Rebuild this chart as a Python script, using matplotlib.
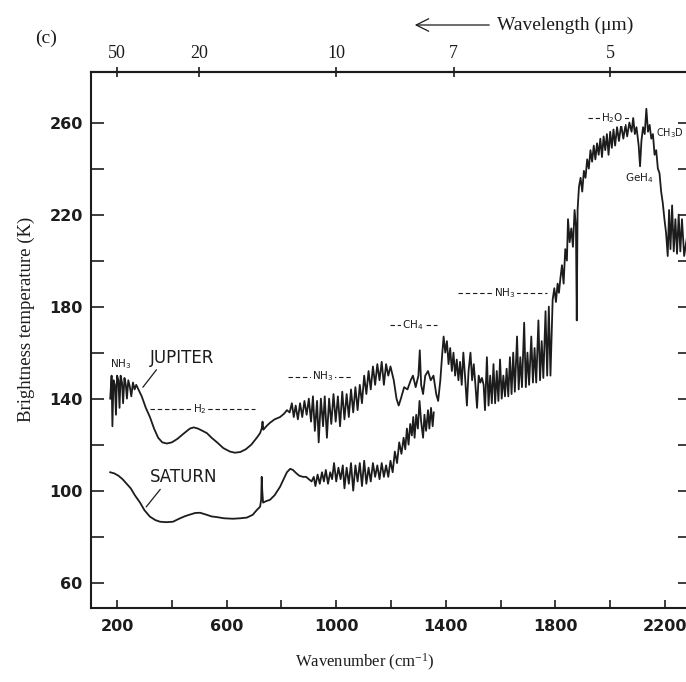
import numpy as np
import matplotlib.pyplot as plt

# Jupiter spectrum (wavenumber cm-1, brightness temperature K)
jup_wn = [175, 180, 183, 187, 192, 196, 200, 205, 209, 213, 218, 222, 227, 232, 236, 241, 247, 252, 258, 264,
          270, 278, 290, 305, 320, 335, 350, 365, 382, 400, 420, 445, 466, 480, 495, 512, 528, 545, 565, 588,
          612, 630, 650, 670, 690, 710, 722, 728, 731, 734, 745, 758, 775, 795, 810, 820,
          830, 838, 845, 852, 860, 868, 876, 884, 892, 900, 908, 915, 922, 930, 936, 944, 952, 958, 966, 974,
          982, 990, 998, 1006, 1014, 1022, 1030, 1038, 1046, 1054, 1062, 1070, 1078, 1086, 1094, 1102, 1110,
          1118, 1126, 1134, 1142, 1150, 1158, 1166, 1174, 1182, 1190, 1198,
          1210, 1220, 1228, 1236, 1248, 1260, 1272, 1280, 1290, 1300, 1305, 1310, 1317, 1325, 1335, 1345, 1355,
          1365, 1372, 1380, 1386, 1392, 1398, 1404, 1410, 1416, 1422, 1428, 1434, 1440, 1446, 1452, 1458, 1464,
          1470, 1477, 1483, 1490, 1496, 1502, 1508, 1514, 1520, 1526, 1532, 1538, 1543,
          1550, 1556, 1562, 1568, 1574, 1580, 1586, 1592, 1598, 1604, 1610, 1616, 1622, 1628, 1634, 1640, 1646,
          1652, 1660, 1666, 1672, 1678, 1686, 1692, 1698, 1704, 1712, 1718, 1724, 1730, 1738, 1744, 1750, 1756,
          1764, 1770, 1776, 1782, 1790, 1796, 1802, 1808, 1813, 1818,
          1824, 1830, 1836, 1842, 1846, 1852, 1858, 1864, 1870, 1875, 1878, 1881, 1886, 1892, 1898, 1904, 1910,
          1916, 1922, 1928, 1934, 1940, 1946, 1952, 1958, 1964, 1970, 1976, 1982, 1988, 1994, 2000, 2006, 2012,
          2018, 2025, 2032, 2040, 2048, 2056, 2062, 2070, 2078, 2084, 2090, 2096, 2104, 2109, 2114, 2120, 2126,
          2132, 2138, 2144, 2150, 2156, 2162, 2168, 2174, 2180, 2186, 2192, 2198, 2204, 2210, 2215, 2220, 2226,
          2232, 2238, 2244, 2250, 2256, 2262, 2270, 2280]
jup_t = [140, 150, 128, 148, 146, 133, 150, 148, 136, 150, 147, 138, 149, 146, 140, 148, 145, 141, 147, 144,
         146, 144, 141, 136, 132, 127, 123, 121, 120.5, 121, 122.5, 125, 127, 127.5, 127, 126, 125, 123, 121, 118.5,
         117, 116.5, 116.8, 118, 120, 123, 125, 127, 130, 126.5, 128, 129.5, 131, 132, 133.5, 135,
         134, 138, 132, 137, 131, 138, 132, 139, 133, 140, 130, 141, 126, 139, 121, 140, 128, 141, 123, 140,
         129, 142, 130, 141, 128, 143, 131, 142, 132, 144, 134, 145, 135, 146, 138, 150, 142,
         152, 144, 154, 146, 155, 148, 156, 146, 155, 150, 154,
         148, 140, 137, 140, 145, 144, 148, 150, 145, 150, 161, 146, 142, 150, 152, 148, 150,
         142, 139, 148, 158, 167, 160, 165, 155, 162, 152, 160, 150, 157, 148, 156, 146, 160,
         150, 137, 152, 160, 148, 155, 146, 136, 150, 147, 149, 146, 135,
         158, 137, 150, 138, 155, 138, 152, 139, 157, 140, 150, 141, 153, 141, 158, 142, 160,
         143, 167, 144, 158, 145, 173, 145, 160, 146, 167, 147, 162, 147, 174, 148, 165, 149,
         178, 150, 180, 150, 183, 188, 182, 190, 186, 192,
         198, 190, 205, 200, 218, 208, 214, 206, 222, 215, 174, 222, 232, 236, 230, 239, 236,
         244, 240, 248, 243, 250, 244, 251, 246, 253, 245, 254, 248, 255, 246, 256, 249, 257,
         250, 258, 252, 259, 253, 259, 254, 260, 256, 262, 255, 258, 250, 241, 252, 258, 255,
         266, 256, 259, 253, 255, 246, 248, 240, 238, 230, 225, 218, 212, 202, 222, 205, 224,
         204, 218, 203, 220, 204, 218, 202, 210]

# Saturn spectrum
sat_wn = [175, 190, 205, 220, 235, 250, 265, 284, 300, 320, 340, 357, 380, 404, 430, 450, 466, 485, 503, 525,
          545, 565, 590, 623, 650, 674, 695, 711, 722, 726, 728, 730, 733, 745, 758, 775, 795, 808, 820, 832,
          842, 855, 865, 879, 890, 900, 910, 918, 924, 932, 940, 948, 955, 962, 970, 978, 985, 992, 1000, 1008,
          1016, 1024, 1030, 1038, 1046, 1054, 1062, 1070, 1078, 1086, 1094, 1102, 1110, 1118, 1126, 1134, 1142,
          1150, 1158, 1166, 1174, 1182, 1190, 1198, 1206, 1214, 1222, 1230, 1238, 1246, 1252, 1258, 1264, 1270,
          1276, 1281, 1286, 1292, 1298, 1304, 1310, 1317, 1322, 1328, 1335, 1340, 1346, 1352, 1356]
sat_t = [108, 107.5, 106.5, 105, 103, 101, 98, 94.8, 91.5, 88.7, 87.2, 86.5, 86.3, 86.5, 88, 89, 89.6, 90.3, 90.4, 89.6,
         88.8, 88.5, 88, 87.8, 88, 88.3, 89.5, 91.7, 93, 96, 106, 100, 94.8, 95.5, 96, 98, 101.7, 105, 108, 109.5,
         109, 107.5, 106.5, 106, 106, 105, 104, 106, 102, 107, 103, 108, 104, 109, 103, 108, 105, 112, 104, 110,
         105, 111, 101, 110, 103, 112, 100, 111, 104, 112, 102, 113, 103, 110, 104, 112, 106,
         111, 105, 112, 106, 111, 106, 113, 108, 117, 112, 121, 116, 123, 118, 127, 120, 129,
         124, 132, 123, 133, 127, 139, 130, 123, 133, 126, 135, 127, 136, 128, 134]

wn_ticks = [200, 600, 1000, 1400, 1800, 2200]
t_ticks = [60, 100, 140, 180, 220, 260]
wl_ticks = [50, 20, 10, 7, 5]

ink = '#1c1c1c'
serif = ['Liberation Serif', 'DejaVu Serif']

fig = plt.figure(figsize=(6.86, 6.82), dpi=100)
ax = fig.add_axes([0.1327, 0.1085, 0.873, 0.786])

ax.plot(jup_wn, jup_t, color=ink, lw=1.3)
ax.plot(sat_wn, sat_t, color=ink, lw=1.3)

ax.set_xlim(105, 2291)
ax.set_ylim(49, 282)

ax.set_xticks(wn_ticks)
ax.set_xticks([400, 800, 1200, 1600, 2000], minor=True)
ax.set_yticks(t_ticks)
ax.set_yticks([80, 120, 160, 200, 240], minor=True)
for s in ax.spines.values():
    s.set_linewidth(1.5)
    s.set_color(ink)
ax.tick_params(axis='x', which='both', direction='in', length=6, width=1.2, colors=ink, pad=8)
ax.tick_params(axis='y', which='both', direction='in', length=9, width=1.2, colors=ink, pad=6,
               right=True)
for lab in ax.get_xticklabels() + ax.get_yticklabels():
    lab.set_fontweight('bold')
    lab.set_fontsize(11.5)

# wavelength axis on top
def to_wl(x):
    x = np.asarray(x, dtype=float)
    return 10000.0 / np.where(x == 0, 1e-9, x)

sec = ax.secondary_xaxis('top', functions=(to_wl, to_wl))
sec.set_xticks(wl_ticks)
sec.set_xticklabels([str(v) for v in wl_ticks], family=serif, fontsize=13)
sec.tick_params(direction='inout', length=7, width=1.2, colors=ink, pad=4)
sec.spines['top'].set_linewidth(1.5)

fig.text(0.531, 0.029, 'Wavenumber (cm$\\mathregular{^{-1}}$)', family=serif, fontsize=12,
         ha='center', va='center', color=ink)
fig.text(0.039, 0.531, 'Brightness temperature (K)', rotation=90, family=serif, fontsize=13.5,
         ha='center', va='center', color=ink)
fig.text(0.051, 0.944, '(c)', family=serif, fontsize=14, ha='left', va='center', color=ink)
fig.text(0.724, 0.963, 'Wavelength (\u03bcm)', family=serif, fontsize=14, ha='left', va='center', color=ink)
ax.annotate('', xy=(412, 657), xycoords='figure pixels', xytext=(492, 657), textcoords='figure pixels',
            arrowprops=dict(arrowstyle='->,head_length=0.9,head_width=0.45', lw=0.9, color=ink))

# labels on the spectra
ax.text(318, 157.5, 'JUPITER', fontsize=12, ha='left', va='center', color=ink)
ax.annotate('', xy=(288, 144), xytext=(350, 153.5),
            arrowprops=dict(arrowstyle='-', lw=0.9, color=ink))
ax.text(318, 106, 'SATURN', fontsize=12, ha='left', va='center', color=ink)
ax.annotate('', xy=(300, 92), xytext=(364, 101.5),
            arrowprops=dict(arrowstyle='-', lw=0.9, color=ink))
ax.text(215, 155, 'NH$_3$', fontsize=7.5, ha='center', va='center', color=ink)

dash = (0, (4, 2.5))
bands = [(320, 704, 135.6, 'H$_2$', 503),
         (824, 1061, 149.6, 'NH$_3$', 952),
         (1196, 1368, 172.0, 'CH$_4$', 1280),
         (1445, 1769, 186.0, 'NH$_3$', 1616),
         (1919, 2072, 262.0, 'H$_2$O', 2007)]
for x1, x2, y, name, xt in bands:
    ax.plot([x1, x2], [y, y], color=ink, lw=0.8, ls=dash)
    ax.text(xt, y, name, fontsize=7.5, ha='center', va='center', color=ink,
            bbox=dict(facecolor='white', edgecolor='none', pad=1.0))
ax.text(2166, 255.6, 'CH$_3$D', fontsize=7, ha='left', va='center', color=ink, clip_on=False)
ax.text(2105, 236, 'GeH$_4$', fontsize=7.5, ha='center', va='center', color=ink)

fig.savefig('out.png', dpi=100)
